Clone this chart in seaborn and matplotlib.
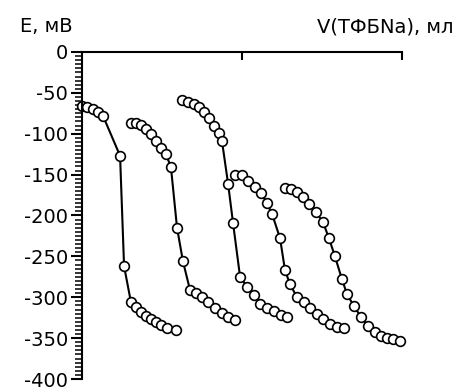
import numpy as np
import pandas as pd
import matplotlib
matplotlib.use('Agg')
import matplotlib.pyplot as plt
import seaborn as sns
from matplotlib.ticker import MultipleLocator

# titration curves, x in ml, E in mV
v1 = [0.0, 0.031, 0.069, 0.100, 0.131, 0.238, 0.263, 0.306, 0.338, 0.369, 0.400, 0.431, 0.463, 0.494, 0.531, 0.588]
e1 = [-66, -67, -70, -73, -78, -127, -262, -306, -312, -318, -323, -327, -330, -334, -338, -340]

v2 = [0.306, 0.338, 0.369, 0.400, 0.431, 0.463, 0.494, 0.525, 0.556, 0.594, 0.631, 0.675, 0.713, 0.750, 0.788, 0.831, 0.875, 0.913, 0.956]
e2 = [-87, -87, -89, -94, -100, -109, -117, -125, -141, -215, -256, -291, -295, -300, -306, -313, -319, -324, -328]

v3 = [0.625, 0.663, 0.700, 0.731, 0.763, 0.794, 0.825, 0.856, 0.875, 0.913, 0.944, 0.988, 1.031, 1.075, 1.113, 1.156, 1.200, 1.244, 1.281]
e3 = [-59, -61, -64, -67, -73, -81, -91, -99, -109, -161, -209, -275, -287, -297, -308, -313, -317, -322, -324]

v4 = [0.956, 1.000, 1.038, 1.081, 1.119, 1.156, 1.188, 1.238, 1.269, 1.300, 1.344, 1.388, 1.425, 1.469, 1.506, 1.550, 1.594, 1.638]
e4 = [-150, -150, -158, -165, -172, -185, -198, -228, -267, -284, -300, -306, -313, -320, -327, -333, -336, -338]

v5 = [1.269, 1.306, 1.344, 1.381, 1.419, 1.463, 1.506, 1.544, 1.581, 1.625, 1.656, 1.700, 1.744, 1.788, 1.831, 1.869, 1.906, 1.944, 1.988]
e5 = [-166, -168, -171, -177, -186, -196, -208, -228, -250, -278, -296, -311, -324, -335, -342, -347, -350, -351, -354]

curves = [(v1, e1), (v2, e2), (v3, e3), (v4, e4), (v5, e5)]

sns.set_style('ticks')
plt.rcParams['font.family'] = ['DejaVu Sans']
plt.rcParams['axes.unicode_minus'] = False

fig = plt.figure(figsize=(4.54, 3.90), dpi=100)
ax = fig.add_axes([0.1806, 0.0282, 0.7048, 0.8385])

for v, e in curves:
    sns.lineplot(x=v, y=e, ax=ax, color='black', linewidth=1.5, estimator=None,
                 marker='o', markersize=7, markerfacecolor='white',
                 markeredgecolor='black', markeredgewidth=1.2, clip_on=False)

ax.set_xlim(0, 2)
ax.set_ylim(-400, 0)

for s in ['right', 'bottom']:
    ax.spines[s].set_visible(False)
for s in ['left', 'top']:
    ax.spines[s].set_linewidth(1.5)
    ax.spines[s].set_color('black')

ax.xaxis.tick_top()
ax.set_xticks([1, 2])
ax.tick_params(axis='x', direction='in', length=6, width=1.5, color='black', labeltop=False)
ax.yaxis.set_major_locator(MultipleLocator(50))
ax.yaxis.set_minor_locator(MultipleLocator(5))
ax.tick_params(axis='y', which='major', direction='out', length=8, width=1.5,
               color='black', labelcolor='black', labelsize=14, pad=2)
ax.tick_params(axis='y', which='minor', direction='out', length=5, width=1.1, color='black')
ax.set_xlabel('')
ax.set_ylabel('')

fig.text(0.044, 0.931, 'E, мВ', fontsize=14, ha='left', va='center', color='black')
fig.text(0.998, 0.931, 'V(ТФБNa), мл', fontsize=14, ha='right', va='center', color='black')

fig.savefig('out.png', dpi=100)
